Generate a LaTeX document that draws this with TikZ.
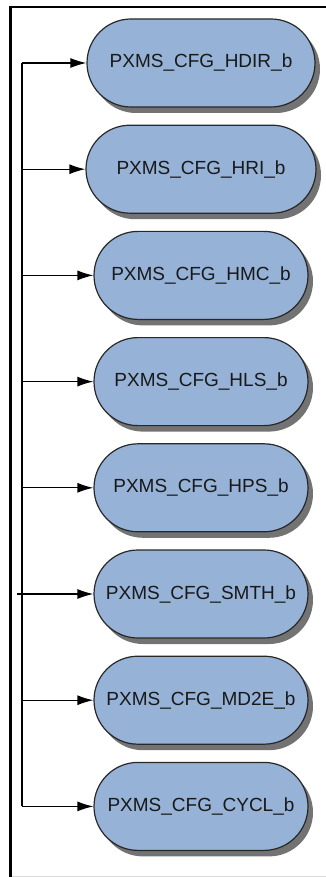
\documentclass[tikz,border=0pt]{standalone}
\usepackage{fontspec}
\setmainfont{Liberation Sans}
\usepackage{tikz}
\usetikzlibrary{shadows, arrows.meta}
\definecolor{cfgblue}{RGB}{150,178,214}
\definecolor{cfgedge}{RGB}{40,40,40}
\tikzset{
  flag/.style={draw=cfgedge, line width=1.2pt, fill=cfgblue, rounded corners=44pt,
    minimum height=88pt, minimum width=214pt, inner sep=0pt, text=black!90,
    font=\fontsize{19}{22}\selectfont,
    drop shadow={shadow xshift=5pt, shadow yshift=-6pt, fill=black!55, opacity=1}},
  feed/.style={-{Latex[length=16pt,width=10pt]}, line width=1.3pt}
}
\begin{document}
\begin{tikzpicture}[x=1pt, y=-1pt, node distance=106.2pt]
	\useasboundingbox (0,0) rectangle (326,877);
	% frame
	\draw[line width=3pt] (10.5,877) -- (10.5,6);
	\draw[line width=2pt] (9,7) -- (326,7);
	\draw[black!15, line width=1pt] (12,876) -- (326,876);
	% flags
	\node[flag, minimum width=228pt] (hdir) at (201,63) {PXMS\_CFG\_HDIR\_b};
	\node[flag, below of=hdir, minimum width=230pt] (hri) {PXMS\_CFG\_HRI\_b};
	\node[flag, below of=hri] (hmc) {PXMS\_CFG\_HMC\_b};
	\node[flag, below of=hmc] (hls) {PXMS\_CFG\_HLS\_b};
	\node[flag, below of=hls] (hps) {PXMS\_CFG\_HPS\_b};
	\node[flag, below of=hps] (smth) {PXMS\_CFG\_SMTH\_b};
	\node[flag, below of=smth] (mdte) {PXMS\_CFG\_MD2E\_b};
	\node[flag, below of=mdte] (cycl) {PXMS\_CFG\_CYCL\_b};
	% bus
	\coordinate (bus) at (22,0);
	\coordinate (stub) at (17,0);
	\draw[line width=1.3pt] (bus |- hdir.west) -- (bus |- cycl.west);
	\draw[feed] (bus |- hdir.west) -- (hdir.west);
	\draw[feed] (bus |- hri.west) -- (hri.west);
	\draw[feed] (bus |- hmc.west) -- (hmc.west);
	\draw[feed] (bus |- hls.west) -- (hls.west);
	\draw[feed] (bus |- hps.west) -- (hps.west);
	\draw[feed] (stub |- smth.west) -- (smth.west);
	\draw[feed] (bus |- mdte.west) -- (mdte.west);
	\draw[feed] (bus |- cycl.west) -- (cycl.west);
\end{tikzpicture}
\end{document}
